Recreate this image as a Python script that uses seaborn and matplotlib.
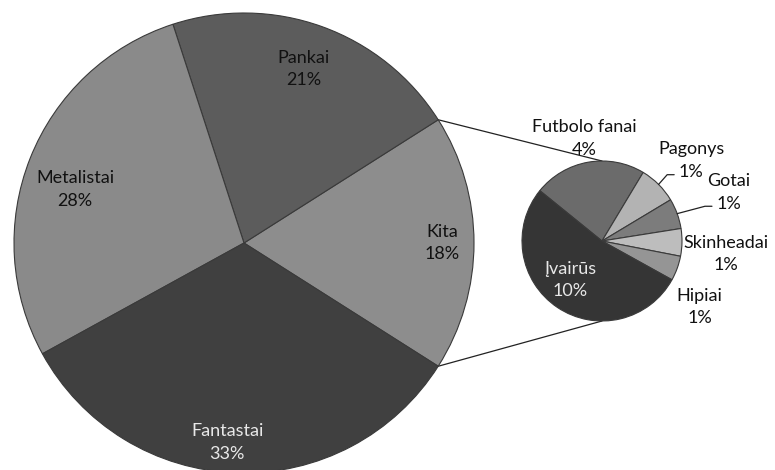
import numpy as np
import matplotlib
matplotlib.use("Agg")
import matplotlib.pyplot as plt
import seaborn as sns

# pagrindinė diagrama (prieš laikrodžio rodyklę nuo "Kita")
main_labels = ["Kita", "Pankai", "Metalistai", "Fantastai"]
main_values = [18, 21, 28, 33]
main_colors = ["#8d8d8d", "#5c5c5c", "#8a8a8a", "#404040"]
main_text_colors = ["#111111", "#111111", "#111111", "#e8e8e8"]
main_label_pos = [(0.86, 0), (0.80, 1), (0.77, 4), (0.87, -3)]  # (atstumas, kampo poslinkis)

# "Kita" išskaidymas (pagal laikrodžio rodyklę)
sub_labels = ["Futbolo fanai", "Pagonys", "Gotai", "Skinheadai", "Hipiai", "Įvairūs"]
sub_values = [4.1, 1.4, 1.1, 1.0, 0.9, 9.5]
sub_pct = ["4%", "1%", "1%", "1%", "1%", "10%"]
sub_colors = ["#6b6b6b", "#b3b3b3", "#7c7c7c", "#bdbdbd", "#959595", "#353535"]
sub_text_colors = ["#111111", "#111111", "#111111", "#111111", "#111111", "#e8e8e8"]
sub_label_pos = [(1.30, 0), (1.50, -3), (1.70, 1), (1.56, -5), (1.47, -14), (0.63, -5)]

sns.set_theme(style="white")
plt.rcParams['font.family'] = ['Lato', 'DejaVu Sans']

fig = plt.figure(figsize=(7.75, 4.7), dpi=100)
ax = fig.add_axes([0, 0, 1, 1])

main_c = (244, 227)
main_r = 230
sub_c = (602, 229)
sub_r = 80
fs = 13

edge = dict(edgecolor="#3a3a3a", linewidth=0.8)
start = -main_values[0] / sum(main_values) * 360 / 2
wedges, _ = ax.pie(main_values, colors=main_colors, startangle=start,
                   center=main_c, radius=main_r, wedgeprops=edge, frame=True)

for w, lab, val, (d, sh), tc in zip(wedges, main_labels, main_values, main_label_pos, main_text_colors):
    ang = np.deg2rad((w.theta1 + w.theta2) / 2 + sh)
    x = main_c[0] + d * main_r * np.cos(ang)
    y = main_c[1] + d * main_r * np.sin(ang)
    ax.text(x, y, f"{lab}\n{val}%", ha="center", va="center", fontsize=fs,
            color=tc, linespacing=1.5)

sub_wedges, _ = ax.pie(sub_values, colors=sub_colors, startangle=141, counterclock=False,
                       center=sub_c, radius=sub_r, wedgeprops=edge, frame=True)

for w, lab, pct, (d, sh), tc in zip(sub_wedges, sub_labels, sub_pct, sub_label_pos, sub_text_colors):
    mid = np.deg2rad((w.theta1 + w.theta2) / 2)
    ang = mid + np.deg2rad(sh)
    x = sub_c[0] + d * sub_r * np.cos(ang)
    y = sub_c[1] + d * sub_r * np.sin(ang)
    ax.text(x, y, f"{lab}\n{pct}", ha="center", va="center", fontsize=fs,
            color=tc, linespacing=1.5)
    if lab in ("Pagonys", "Gotai"):
        # vedamoji linija
        ex = sub_c[0] + sub_r * np.cos(mid)
        ey = sub_c[1] + sub_r * np.sin(mid)
        ty = y - 14
        ax.plot([ex, x - 24, x - 17], [ey, ty, ty], color="#222222", lw=0.9)

# jungiamosios linijos
kita = wedges[0]
for th, sy in [(kita.theta2, sub_c[1] + sub_r), (kita.theta1, sub_c[1] - sub_r)]:
    px = main_c[0] + main_r * np.cos(np.deg2rad(th))
    py = main_c[1] + main_r * np.sin(np.deg2rad(th))
    ax.plot([px, sub_c[0]], [py, sy], color="#222222", lw=0.9, zorder=0)

ax.set_xlim(0, 775)
ax.set_ylim(0, 470)
ax.set_aspect("equal")
ax.axis("off")

fig.savefig("out.png", dpi=100, facecolor="white")
